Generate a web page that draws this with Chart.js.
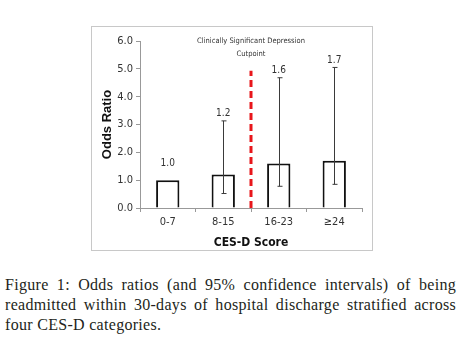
<!DOCTYPE html>
<html>
<head>
<meta charset="utf-8">
<script src="https://cdn.jsdelivr.net/npm/chart.js@4.4.1/dist/chart.umd.min.js"></script>
<style>
    html, body { margin: 0; padding: 0; background: #fff; }
    body { width: 460px; height: 352px; position: relative; overflow: hidden; }
    .chart-frame {
        position: absolute; left: 91px; top: 26px;
        width: 280px; height: 223px;
        border: 1px solid #c8c8c8;
    }
    .chart-frame canvas { position: absolute; left: 0; top: 0; }
    .caption {
        position: absolute; left: 5px; top: 275px; width: 451px;
        font-family: "Liberation Serif", "DejaVu Serif", serif;
        font-size: 16px; line-height: 20px; letter-spacing: 0.3px; color: #231f20;
        text-align: justify; margin: 0;
    }
</style>
</head>
<body>
<div class="chart-frame"><canvas id="orChart" width="280" height="223"></canvas></div>
<p class="caption">Figure 1: Odds ratios (and 95% confidence intervals) of being readmitted within 30-days of hospital discharge stratified across four CES-D categories.</p>

<script>
// CES-D categories and odds ratios
const categories = ['0-7', '8-15', '16-23', '\u226524'];
const oddsRatios = [1.0, 1.2, 1.6, 1.7];
const ciLower = [null, 0.52, 0.78, 0.85];
const ciUpper = [null, 3.13, 4.68, 5.05];
const yTicks = [0, 1, 2, 3, 4, 5, 6];

// cutpoint sits between 8-15 and 16-23
const cutpointIndex = 1.5;
const cutpointTop = 4.93;
const cutpointLabel = ['Clinically Significant Depression', 'Cutpoint'];

const narrowFont = '"DejaVu Sans Condensed", "Liberation Sans Narrow", "Liberation Sans", sans-serif';

//..error bars, value labels and the red cutpoint line
const extrasPlugin = {
    id: 'extras',
    afterDatasetsDraw(chart) {
        const { ctx, scales: { x, y } } = chart;
        ctx.save();

        // error bars
        ctx.strokeStyle = '#3a3a3a';
        ctx.lineWidth = 1;
        oddsRatios.forEach((v, i) => {
            if (ciLower[i] === null) return;
            const px = Math.round(x.getPixelForValue(i)) + 0.5;
            const yTop = y.getPixelForValue(ciUpper[i]);
            const yBot = y.getPixelForValue(ciLower[i]);
            ctx.beginPath();
            ctx.moveTo(px, yTop); ctx.lineTo(px, yBot);
            ctx.moveTo(px - 2, yTop); ctx.lineTo(px + 3, yTop);
            ctx.moveTo(px - 2, yBot); ctx.lineTo(px + 3, yBot);
            ctx.stroke();
        });

        // value labels
        ctx.fillStyle = '#333';
        ctx.font = '10px ' + narrowFont;
        ctx.textAlign = 'center';
        ctx.textBaseline = 'middle';
        oddsRatios.forEach((v, i) => {
            const top = ciUpper[i] === null ? v : ciUpper[i];
            const py = y.getPixelForValue(top) - (ciUpper[i] === null ? 17 : 7);
            ctx.fillText(v.toFixed(1), x.getPixelForValue(i), py);
        });

        // cutpoint line
        const cx = x.getPixelForValue(cutpointIndex);
        ctx.strokeStyle = '#e8161b';
        ctx.lineWidth = 3;
        ctx.setLineDash([7, 4]);
        ctx.beginPath();
        ctx.moveTo(cx, y.getPixelForValue(0));
        ctx.lineTo(cx, y.getPixelForValue(cutpointTop));
        ctx.stroke();
        ctx.setLineDash([]);

        // cutpoint annotation
        ctx.fillStyle = '#333';
        ctx.font = '7.5px ' + narrowFont;
        ctx.fillText(cutpointLabel[0], cx, y.getPixelForValue(6));
        ctx.fillText(cutpointLabel[1], cx, y.getPixelForValue(6) + 13.5);

        ctx.restore();
    }
};

function createChart() {
    const ctx = document.getElementById('orChart');
    new Chart(ctx, {
        type: 'bar',
        data: {
            labels: categories,
            datasets: [{
                label: 'Odds Ratio',
                data: oddsRatios,
                backgroundColor: '#fff',
                borderColor: '#111',
                borderWidth: 2,
                barPercentage: 0.42,
                categoryPercentage: 1
            }]
        },
        options: {
            responsive: false,
            animation: false,
            layout: { padding: { left: 8, right: 10, top: 14, bottom: 0 } },
            scales: {
                x: {
                    grid: { drawOnChartArea: false, drawTicks: true, tickLength: 4, color: '#999' },
                    border: { color: '#999' },
                    ticks: { color: '#333', padding: 4, font: { family: narrowFont, size: 11 } },
                    title: {
                        display: true, text: 'CES-D Score', color: '#111',
                        font: { family: narrowFont, size: 12, weight: 'bold' },
                        padding: { top: 0, bottom: 0 }
                    },
                    afterFit(scale) { scale.height = 42; }
                },
                y: {
                    min: 0, max: 6,
                    afterBuildTicks(scale) { scale.ticks = yTicks.map(v => ({ value: v })); },
                    grid: { drawOnChartArea: false, drawTicks: true, tickLength: 4, color: '#999' },
                    border: { color: '#999' },
                    ticks: {
                        color: '#333', padding: 3,
                        font: { family: narrowFont, size: 11 },
                        callback: v => Number(v).toFixed(1)
                    },
                    title: {
                        display: true, text: 'Odds Ratio', color: '#111',
                        font: { family: '"Liberation Sans", Arial, sans-serif', size: 13, weight: 'bold' },
                        padding: { top: 0, bottom: 0 }
                    },
                    afterFit(scale) { scale.width = 40; }
                }
            },
            plugins: {
                legend: { display: false },
                tooltip: { enabled: false }
            }
        },
        plugins: [extrasPlugin]
    });
}

document.addEventListener('DOMContentLoaded', createChart);
</script>
</body>
</html>
